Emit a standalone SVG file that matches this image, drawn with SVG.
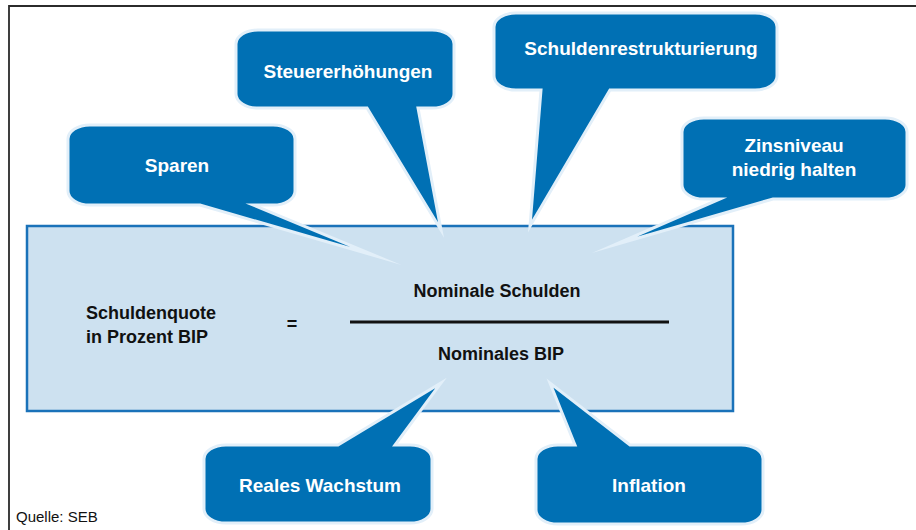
<svg xmlns="http://www.w3.org/2000/svg" width="916" height="530" viewBox="0 0 916 530">
  <style>
    .frame { fill: none; stroke: #2b2b2b; stroke-width: 1.8; }
    .box { fill: #cde1f0; stroke: #1a72b9; stroke-width: 2.5; }
    .bubble { fill: #0070b4; stroke: #e2eff9; stroke-width: 3; stroke-linejoin: miter; stroke-miterlimit: 60; }
    .wt { font-family: "Liberation Sans", Arial, sans-serif; font-weight: bold; font-size: 19px; fill: #ffffff; text-anchor: middle; }
    .bt { font-family: "Liberation Sans", Arial, sans-serif; font-weight: bold; font-size: 18px; fill: #111111; }
    .src { font-family: "Liberation Sans", Arial, sans-serif; font-size: 15px; fill: #111111; }
  </style>
  <rect width="916" height="530" fill="#ffffff"/>
  <path class="frame" d="M 9,530 V 6 H 916"/>

  <g id="formula">
    <rect class="box" x="27" y="226" width="706" height="185"/>
    <text class="bt" x="86" y="319">Schuldenquote</text>
    <text class="bt" x="86" y="343">in Prozent BIP</text>
    <text class="bt" x="292" y="330" text-anchor="middle">=</text>
    <text class="bt" x="497" y="297" text-anchor="middle">Nominale Schulden</text>
    <line x1="350" y1="322" x2="669" y2="322" stroke="#111111" stroke-width="3"/>
    <text class="bt" x="501" y="360" text-anchor="middle">Nominales BIP</text>
  </g>

  <g id="connectors"></g>

  <g id="sparen">
    <path class="bubble" d="M 90,125 H 273 A 22 14 0 0 1 295,139 V 191 A 22 14 0 0 1 273,205 H 253 L 376,256 L 200,205 H 90 A 22 14 0 0 1 68,191 V 139 A 22 14 0 0 1 90,125 Z"/>
    <text class="wt" x="177" y="172">Sparen</text>
  </g>

  <g id="steuer">
    <path class="bubble" d="M 258,30 H 432 A 22 14 0 0 1 454,44 V 94 A 22 14 0 0 1 432,108 H 418 L 441,230 L 367,108 H 258 A 22 14 0 0 1 236,94 V 44 A 22 14 0 0 1 258,30 Z"/>
    <text class="wt" x="348" y="78">Steuererhöhungen</text>
  </g>

  <g id="restrukturierung">
    <path class="bubble" d="M 516,13 H 755 A 22 14 0 0 1 777,27 V 76 A 22 14 0 0 1 755,90 H 610 L 530,226 L 541,90 H 516 A 22 14 0 0 1 494,76 V 27 A 22 14 0 0 1 516,13 Z"/>
    <text class="wt" x="641" y="55">Schuldenrestrukturierung</text>
  </g>

  <g id="zinsniveau">
    <path class="bubble" d="M 704,118 H 885 A 22 14 0 0 1 907,132 V 185 A 22 14 0 0 1 885,199 H 773 L 614,245 L 720,199 H 704 A 22 14 0 0 1 682,185 V 132 A 22 14 0 0 1 704,118 Z"/>
    <text class="wt" x="794" y="152">Zinsniveau</text>
    <text class="wt" x="794" y="176">niedrig halten</text>
  </g>

  <g id="wachstum">
    <path class="bubble" d="M 226,445 H 338 L 441,383 L 395,445 H 410 A 22 14 0 0 1 432,459 V 509 A 22 14 0 0 1 410,523 H 226 A 22 14 0 0 1 204,509 V 459 A 22 14 0 0 1 226,445 Z"/>
    <text class="wt" x="320" y="492">Reales Wachstum</text>
  </g>

  <g id="inflation">
    <path class="bubble" d="M 558,445 H 575 L 550,383 L 630,445 H 741 A 22 14 0 0 1 763,459 V 510 A 22 14 0 0 1 741,524 H 558 A 22 14 0 0 1 536,510 V 459 A 22 14 0 0 1 558,445 Z"/>
    <text class="wt" x="649" y="492">Inflation</text>
  </g>

  <text class="src" x="16" y="522">Quelle: SEB</text>
</svg>
